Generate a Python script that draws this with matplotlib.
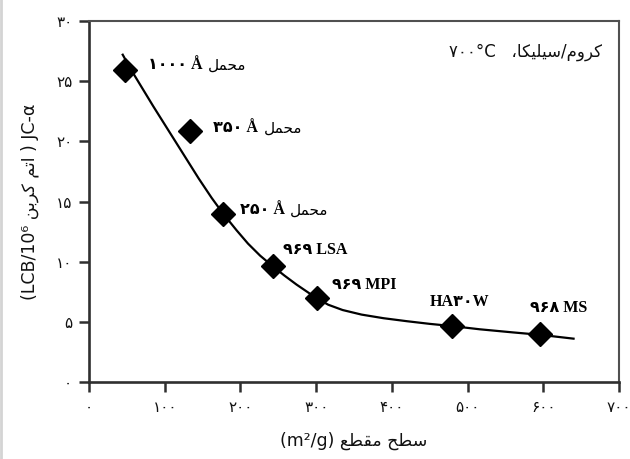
import matplotlib
matplotlib.use("Agg")
import matplotlib.pyplot as plt
from matplotlib.lines import Line2D

# marker points (surface area m2/g, JC-alpha)
support_x = [48, 134, 177, 243, 301, 479, 596]
support_y = [25.9, 20.9, 14.0, 9.6, 6.95, 4.65, 3.95]

# hand drawn trend line
curve_x = [44.5, 56, 85, 115, 145, 162, 177, 195, 210, 226, 243, 258, 274, 288, 301,
           316, 335, 360, 389, 420, 450, 479, 516, 560, 596, 640]
curve_y = [27.2, 25.9, 22.9, 19.9, 16.9, 15.3, 14.0, 12.6, 11.5, 10.5, 9.6, 8.85, 8.1, 7.5, 6.95,
           6.42, 5.98, 5.6, 5.3, 5.05, 4.83, 4.65, 4.38, 4.12, 3.92, 3.6]

# point labels: (bold latin/digit part, persian word after it)
label_bold = ["۱۰۰۰ Å", "۳۵۰ Å", "۲۵۰ Å", "۹۶۹ LSA", "۹۶۹ MPI", "HA۳۰W", "۹۶۸ MS"]
label_word = ["محمل", "محمل", "محمل", "", "", "", ""]
label_x = [78, 164, 199, 256, 321, 450, 582]
label_y = [26.35, 21.1, 14.3, 10.95, 8.06, 6.67, 6.15]

xticks = [0, 100, 200, 300, 400, 500, 600, 700]
yticks = [0, 5, 10, 15, 20, 25, 30]

x_title = "سطح مقطع"
y_title = "اتم کربن"
note_text = "کروم/سیلیکا،"

# --- tiny persian shaper (matplotlib does no shaping / bidi) ---
FORMS = {
    # iso, fin, ini, med
    "ا": ("\uFE8D", "\uFE8E", None, None),
    "ر": ("\uFEAD", "\uFEAE", None, None),
    "و": ("\uFEED", "\uFEEE", None, None),
    "ب": ("\uFE8F", "\uFE90", "\uFE91", "\uFE92"),
    "ت": ("\uFE95", "\uFE96", "\uFE97", "\uFE98"),
    "ح": ("\uFEA1", "\uFEA2", "\uFEA3", "\uFEA4"),
    "س": ("\uFEB1", "\uFEB2", "\uFEB3", "\uFEB4"),
    "ط": ("\uFEC1", "\uFEC2", "\uFEC3", "\uFEC4"),
    "ع": ("\uFEC9", "\uFECA", "\uFECB", "\uFECC"),
    "ق": ("\uFED5", "\uFED6", "\uFED7", "\uFED8"),
    "ل": ("\uFEDD", "\uFEDE", "\uFEDF", "\uFEE0"),
    "م": ("\uFEE1", "\uFEE2", "\uFEE3", "\uFEE4"),
    "ن": ("\uFEE5", "\uFEE6", "\uFEE7", "\uFEE8"),
    "ک": ("\uFB8E", "\uFB8F", "\uFB90", "\uFB91"),
    "ی": ("\uFBFC", "\uFBFD", "\uFBFE", "\uFBFF"),
}


def dual(c):
    return c in FORMS and FORMS[c][2] is not None


def fa(s):
    out = []
    for i, c in enumerate(s):
        if c not in FORMS:
            out.append(c)
            continue
        prev = s[i - 1] if i > 0 else ""
        nxt = s[i + 1] if i + 1 < len(s) else ""
        jp = dual(prev)
        jn = dual(c) and nxt in FORMS
        iso, fin, ini, med = FORMS[c]
        if jp and jn:
            out.append(med)
        elif jp:
            out.append(fin)
        elif jn:
            out.append(ini)
        else:
            out.append(iso)
    return "".join(out)[::-1]


def fa_num(v):
    return str(v).translate(str.maketrans("0123456789", "۰۱۲۳۴۵۶۷۸۹"))


plt.rcParams["font.family"] = ["DejaVu Sans"]
dark = "#2f2f2f"

fig = plt.figure(figsize=(6.3, 4.59), dpi=100)
ax = fig.add_axes([0.1413, 0.1678, 0.8412, 0.7864])

ax.plot(curve_x, curve_y, color="black", lw=1.6, zorder=2, solid_joinstyle="round")
ax.plot(support_x, support_y, "D", color="black", ms=12, zorder=3)

bold_font = dict(family=["Liberation Serif", "DejaVu Sans"], weight="bold", size=11.5)
for b, w, x, y in zip(label_bold, label_word, label_x, label_y):
    t = ax.text(x, y, b, ha="left", va="center", color="black", **bold_font)
    if w:
        ax.annotate(fa(w), xy=(1, 0.5), xycoords=t, xytext=(4, 0),
                    textcoords="offset points", ha="left", va="center",
                    fontsize=11, color="black")

ax.text(677, 27.4, "۷۰۰°C   " + fa(note_text), ha="right", va="center",
        fontsize=12, color="#111111")

ax.set_xlim(0, 700)
ax.set_ylim(0, 30)
ax.set_xticks(xticks)
ax.set_xticklabels([fa_num(v) for v in xticks])
ax.set_yticks(yticks)
ax.set_yticklabels([fa_num(v) for v in yticks])
ax.tick_params(direction="out", length=7, width=1.8, color=dark,
               labelsize=11, labelcolor="#111111")
ax.tick_params(axis="x", pad=6)
ax.tick_params(axis="y", pad=5)

for side in ["left", "bottom"]:
    ax.spines[side].set_linewidth(1.9)
    ax.spines[side].set_color(dark)
for side in ["top", "right"]:
    ax.spines[side].set_linewidth(1.5)
    ax.spines[side].set_color("#505050")

ax.set_xlabel("(m²/g) " + fa(x_title), fontsize=12.5, labelpad=12, color="#111111")
ax.set_ylabel("(LCB/10⁶ " + fa(y_title) + " ) JC-α", fontsize=12.5, labelpad=12,
              color="#111111")

fig.add_artist(Line2D([0.002, 0.002], [0, 1], transform=fig.transFigure,
                      color="#d4d4d4", lw=2))

fig.savefig("out.png", dpi=100)
